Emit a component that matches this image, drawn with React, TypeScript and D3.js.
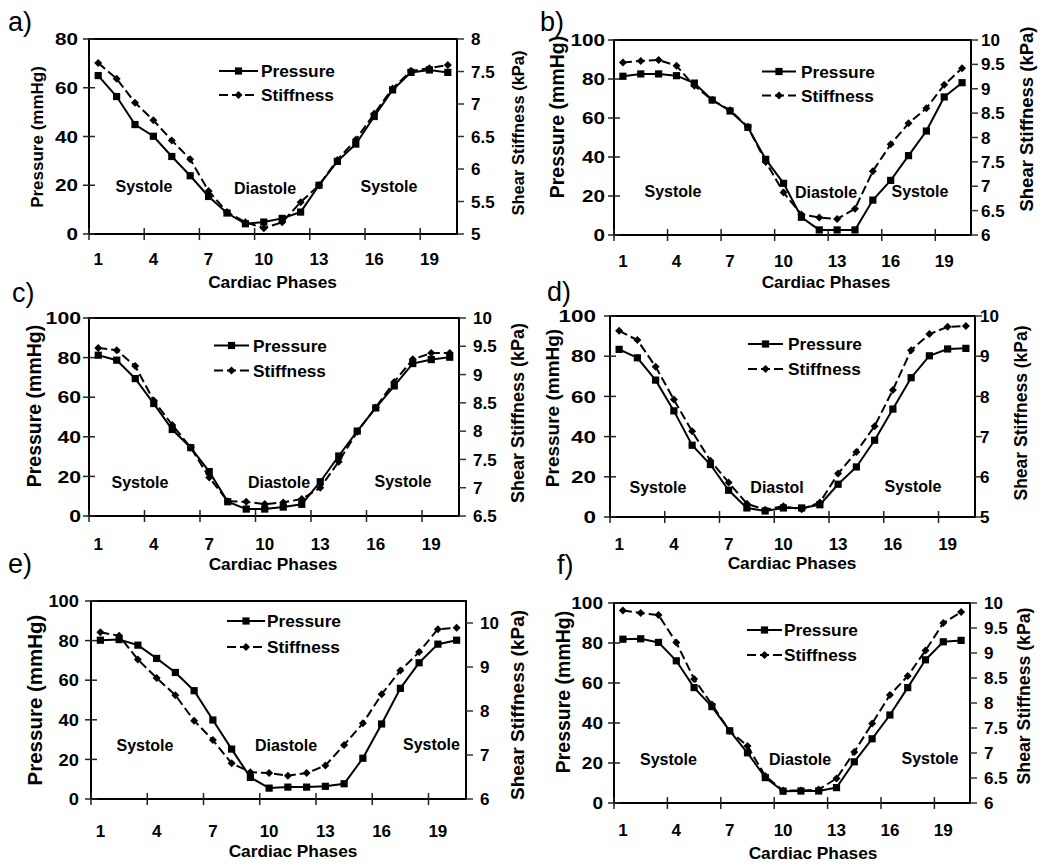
import React from "react";
import * as d3 from "d3";

// ---------- data ----------
const phases = [1, 2, 3, 4, 5, 6, 7, 8, 9, 10, 11, 12, 13, 14, 15, 16, 17, 18, 19, 20];
const xTickLabels = [1, 4, 7, 10, 13, 16, 19];
const seriesNames = ["Pressure", "Stiffness"];
const phaseLabels = ["Systole", "Diastole", "Systole"];
const phaseLabelsD = ["Systole", "Diastol", "Systole"];
const panelLetters = ["a)", "b)", "c)", "d)", "e)", "f)"];
const leftTitle = "Pressure (mmHg)";
const rightTitle = "Shear Stiffness (kPa)";
const xTitle = "Cardiac Phases";

const pressureA = [65, 56.4, 44.9, 40.1, 31.8, 23.9, 15.4, 8.6, 4.2, 4.9, 6.4, 9, 20, 29.8, 36.9, 48.2, 59.1, 66.3, 67.3, 66.3];
const stiffnessA = [7.63, 7.39, 7.02, 6.75, 6.44, 6.15, 5.66, 5.34, 5.18, 5.09, 5.18, 5.49, 5.75, 6.14, 6.45, 6.85, 7.24, 7.51, 7.55, 7.6];

const pressureB = [81.4, 82.6, 82.6, 81.7, 77.9, 69.2, 63.6, 55.2, 38.8, 26.5, 9.1, 2.6, 2.6, 2.6, 17.9, 28, 40.7, 53.3, 70.8, 78.1];
const stiffnessB = [9.54, 9.57, 9.59, 9.47, 9.06, 8.77, 8.56, 8.22, 7.5, 6.87, 6.42, 6.36, 6.33, 6.54, 7.31, 7.86, 8.29, 8.6, 9.08, 9.42];

const pressureC = [81.2, 78.7, 69.4, 56.8, 43.7, 34.5, 22.4, 7.2, 3.5, 3.5, 4.5, 5.9, 17.3, 30.3, 42.9, 54.6, 65.7, 77, 79, 80.2];
const stiffnessC = [9.47, 9.43, 9.15, 8.54, 8.11, 7.71, 7.18, 6.76, 6.75, 6.71, 6.74, 6.8, 7.0, 7.46, 7.99, 8.42, 8.87, 9.27, 9.38, 9.38];

const pressureD = [83.4, 79.2, 68.1, 52.8, 35.7, 26.1, 13.3, 4.5, 3, 4.5, 4.5, 6.1, 16.3, 24.9, 38.2, 53.7, 69.3, 80.2, 83.6, 83.9];
const stiffnessD = [9.63, 9.4, 8.74, 7.92, 7.13, 6.4, 5.86, 5.33, 5.18, 5.27, 5.19, 5.36, 6.08, 6.62, 7.26, 8.16, 9.15, 9.55, 9.73, 9.75];

const pressureE = [80.2, 80.5, 77.7, 71, 63.9, 54.7, 39.9, 25.2, 10.9, 5.5, 6, 6, 6.4, 7.7, 20.6, 37.9, 55.9, 68.8, 78.2, 80.2];
const stiffnessE = [9.79, 9.71, 9.17, 8.75, 8.36, 7.78, 7.34, 6.81, 6.61, 6.59, 6.53, 6.59, 6.76, 7.23, 7.72, 8.38, 8.92, 9.34, 9.86, 9.89];

const pressureF = [81.9, 82.1, 80.3, 71.1, 57.7, 48.2, 36.1, 25.1, 12.7, 5.9, 6, 6, 7.7, 20.6, 32.1, 44, 57.7, 71.6, 80.6, 81.3];
const stiffnessF = [9.85, 9.8, 9.76, 9.21, 8.48, 7.97, 7.44, 7.14, 6.54, 6.25, 6.25, 6.27, 6.49, 7.02, 7.59, 8.16, 8.54, 9.05, 9.6, 9.82];

// axis settings (values)
const leftMaxes = [80, 100, 100, 100, 100, 100];
const rightDomains = [[5, 8], [6, 10], [6.5, 10], [5, 10], [6, 10.5], [6, 10]];
const rightTickSteps = [0.5, 0.5, 0.5, 1, 1, 0.5];
const rightTickMaxes = [8, 10, 10, 10, 10, 10];

// ---------- layout ----------
type Layout = {
  plot: { l: number; r: number; t: number; b: number };
  letter: [number, number];
  leftLabelRight: number;
  leftDigitW: number;
  leftTitle: [number, number, number];
  rightLabelLeft: number;
  rightTitle: [number, number, number];
  xLabelY: number;
  xTitle: [number, number];
  legend: { x1: number; x2: number; tx: number; y1: number; y2: number };
  ann: [number, number][];
};

const layouts: Layout[] = [
  {
    plot: { l: 89, r: 457, t: 39, b: 234 },
    letter: [8, 31],
    leftLabelRight: 78,
    leftDigitW: 11.5,
    leftTitle: [37, 137, 17],
    rightLabelLeft: 471,
    rightTitle: [518, 133, 16.5],
    xLabelY: 265,
    xTitle: [272.5, 288],
    legend: { x1: 219, x2: 258, tx: 261, y1: 71, y2: 95 },
    ann: [[144, 191.5], [265, 194], [389, 192]],
  },
  {
    plot: { l: 614, r: 971, t: 40, b: 235 },
    letter: [540, 31],
    leftLabelRight: 605,
    leftDigitW: 11.5,
    leftTitle: [557, 117, 19.5],
    rightLabelLeft: 981,
    rightTitle: [1026, 119, 18.5],
    xLabelY: 266.5,
    xTitle: [826, 288],
    legend: { x1: 762, x2: 796, tx: 801, y1: 71.5, y2: 95.5 },
    ann: [[673, 197], [826, 198], [920, 197]],
  },
  {
    plot: { l: 89, r: 459, t: 318, b: 516 },
    letter: [12, 302],
    leftLabelRight: 81,
    leftDigitW: 11.8,
    leftTitle: [34, 406, 19.5],
    rightLabelLeft: 473,
    rightTitle: [518, 413, 18],
    xLabelY: 550,
    xTitle: [273, 570],
    legend: { x1: 214, x2: 249, tx: 253, y1: 345.5, y2: 370.5 },
    ann: [[140, 488], [279, 488], [403, 487]],
  },
  {
    plot: { l: 610, r: 975, t: 316, b: 517 },
    letter: [547, 301],
    leftLabelRight: 596,
    leftDigitW: 12.5,
    leftTitle: [552, 408, 19],
    rightLabelLeft: 980,
    rightTitle: [1020.5, 413, 17.5],
    xLabelY: 550,
    xTitle: [792, 569],
    legend: { x1: 748, x2: 783, tx: 788, y1: 344, y2: 369 },
    ann: [[658, 492.5], [777, 493], [913, 492]],
  },
  {
    plot: { l: 91, r: 466, t: 601, b: 799 },
    letter: [8, 573],
    leftLabelRight: 79,
    leftDigitW: 10.2,
    leftTitle: [35, 700, 20.5],
    rightLabelLeft: 480,
    rightTitle: [517, 705, 19],
    xLabelY: 836.5,
    xTitle: [293, 856.5],
    legend: { x1: 227, x2: 265, tx: 267, y1: 621, y2: 647 },
    ann: [[145, 751], [286, 751], [431.5, 749.5]],
  },
  {
    plot: { l: 614, r: 970, t: 603, b: 803 },
    letter: [557, 574],
    leftLabelRight: 603,
    leftDigitW: 10.6,
    leftTitle: [562.5, 692, 19.5],
    rightLabelLeft: 984,
    rightTitle: [1024, 696, 17.7],
    xLabelY: 836,
    xTitle: [813, 859],
    legend: { x1: 747, x2: 782, tx: 784, y1: 630, y2: 655 },
    ann: [[668.5, 764.5], [800, 765], [930, 763.5]],
  },
];

const pressures = [pressureA, pressureB, pressureC, pressureD, pressureE, pressureF];
const stiffnesses = [stiffnessA, stiffnessB, stiffnessC, stiffnessD, stiffnessE, stiffnessF];

const FONT = "'Liberation Sans', Arial, Helvetica, sans-serif";
const DASH = "9,4";

function Square({ x, y }: { x: number; y: number }) {
  return <rect x={x - 3.6} y={y - 3.6} width={7.2} height={7.2} fill="#000" />;
}
function Diamond({ x, y }: { x: number; y: number }) {
  const r = 4;
  return <path d={`M${x},${y - r}L${x + r},${y}L${x},${y + r}L${x - r},${y}Z`} fill="#000" />;
}

function Panel({ i }: { i: number }) {
  const L = layouts[i];
  const { plot } = L;
  const pressure = pressures[i];
  const stiffness = stiffnesses[i];
  const x = d3.scaleBand<number>().domain(phases).range([plot.l, plot.r]).paddingInner(0).paddingOuter(0);
  const bw = x.bandwidth();
  const cx = (p: number) => (x(p) as number) + bw / 2;
  const yL = d3.scaleLinear().domain([0, leftMaxes[i]]).range([plot.b, plot.t]);
  const yR = d3.scaleLinear().domain(rightDomains[i]).range([plot.b, plot.t]);
  const leftTicks = yL.ticks(leftMaxes[i] / 20).filter((v) => v % 20 === 0);
  const rightTicks: number[] = [];
  for (let v = rightDomains[i][0]; v <= rightTickMaxes[i] + 1e-9; v += rightTickSteps[i]) rightTicks.push(+v.toFixed(2));

  const lineP = d3.line<number>().x((_, k) => cx(phases[k])).y((d) => yL(d))(pressure) as string;
  const lineS = d3.line<number>().x((_, k) => cx(phases[k])).y((d) => yR(d))(stiffness) as string;
  const fmt = d3.format("~g");
  const labels = i === 3 ? phaseLabelsD : phaseLabels;
  const lg = L.legend;
  const lgMid = (lg.x1 + lg.x2) / 2;

  return (
    <g fontFamily={FONT} fontWeight="bold" fill="#000">
      {/* panel letter */}
      <text x={L.letter[0]} y={L.letter[1]} fontSize={27} fontWeight="normal">
        {panelLetters[i]}
      </text>

      {/* frame */}
      <rect x={plot.l} y={plot.t} width={plot.r - plot.l} height={plot.b - plot.t} fill="none" stroke="#000" strokeWidth={2} />

      {/* left ticks */}
      {leftTicks.map((v) => {
        const s = String(v);
        return (
          <g key={"l" + v}>
            <line x1={plot.l - 6} x2={plot.l + 6} y1={yL(v)} y2={yL(v)} stroke="#222" strokeWidth={1.5} />
            <text
              x={L.leftLabelRight}
              y={yL(v)}
              dy="0.36em"
              textAnchor="end"
              fontSize={17}
              textLength={s.length * L.leftDigitW}
              lengthAdjust="spacingAndGlyphs"
            >
              {s}
            </text>
          </g>
        );
      })}
      {/* right ticks */}
      {rightTicks.map((v) => (
        <g key={"r" + v}>
          <line x1={plot.r} x2={plot.r + 7} y1={yR(v)} y2={yR(v)} stroke="#333" strokeWidth={1.5} />
          <text x={L.rightLabelLeft} y={yR(v)} dy="0.36em" textAnchor="start" fontSize={17}>
            {fmt(v)}
          </text>
        </g>
      ))}
      {/* x ticks */}
      {xTickLabels.map((c) => (
        <g key={"x" + c}>
          <line x1={x(c) as number} x2={x(c) as number} y1={plot.b - 6} y2={plot.b + 6} stroke="#222" strokeWidth={1.5} />
          <text x={cx(c)} y={L.xLabelY} textAnchor="middle" fontSize={17}>
            {c}
          </text>
        </g>
      ))}

      {/* series */}
      <path d={lineS} fill="none" stroke="#000" strokeWidth={2} strokeDasharray={DASH} />
      <path d={lineP} fill="none" stroke="#000" strokeWidth={2} />
      {stiffness.map((v, k) => (
        <Diamond key={"s" + k} x={cx(phases[k])} y={yR(v)} />
      ))}
      {pressure.map((v, k) => (
        <Square key={"p" + k} x={cx(phases[k])} y={yL(v)} />
      ))}

      {/* axis titles */}
      <text
        transform={`translate(${L.leftTitle[0]},${L.leftTitle[1]}) rotate(-90)`}
        textAnchor="middle"
        dy="0.36em"
        fontSize={L.leftTitle[2]}
      >
        {leftTitle}
      </text>
      <text
        transform={`translate(${L.rightTitle[0]},${L.rightTitle[1]}) rotate(-90)`}
        textAnchor="middle"
        dy="0.36em"
        fontSize={L.rightTitle[2]}
      >
        {rightTitle}
      </text>
      <text x={L.xTitle[0]} y={L.xTitle[1]} textAnchor="middle" fontSize={17.3}>
        {xTitle}
      </text>

      {/* legend */}
      <line x1={lg.x1} x2={lg.x2} y1={lg.y1} y2={lg.y1} stroke="#000" strokeWidth={2} />
      <Square x={lgMid} y={lg.y1} />
      <line x1={lg.x1} x2={lg.x2} y1={lg.y2} y2={lg.y2} stroke="#000" strokeWidth={2} strokeDasharray={DASH} />
      <Diamond x={lgMid} y={lg.y2} />
      <text x={lg.tx} y={lg.y1} dy="0.36em" fontSize={17.3}>
        {seriesNames[0]}
      </text>
      <text x={lg.tx} y={lg.y2} dy="0.36em" fontSize={17.3}>
        {seriesNames[1]}
      </text>

      {/* phase annotations */}
      {L.ann.map((a, k) => (
        <text key={"a" + k} x={a[0]} y={a[1]} textAnchor="middle" fontSize={16}>
          {labels[k]}
        </text>
      ))}
    </g>
  );
}

export default function App() {
  return (
    <svg
      width={1050}
      height={866}
      viewBox="0 0 1050 866"
      style={{ position: "absolute", left: 0, top: 0, background: "#fff" }}
    >
      <rect width={1050} height={866} fill="#fff" />
      {layouts.map((_, i) => (
        <Panel key={i} i={i} />
      ))}
    </svg>
  );
}
